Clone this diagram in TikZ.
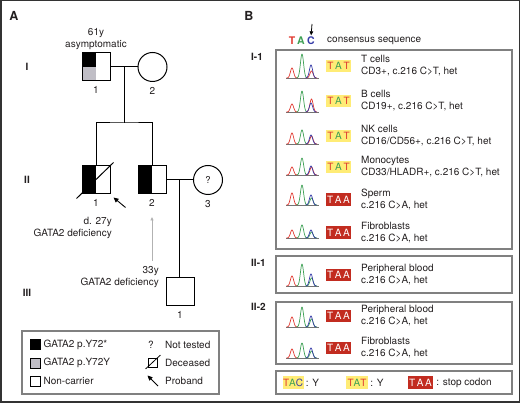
\documentclass[tikz,border=0pt]{standalone}
\usepackage{fontspec}
\setmainfont{TeX Gyre Heros}
\usetikzlibrary{positioning,calc,arrows.meta}

\definecolor{tred}{RGB}{224,56,48}
\definecolor{tgreen}{RGB}{62,160,84}
\definecolor{tblue}{RGB}{54,60,168}
\definecolor{codonyellow}{RGB}{255,236,118}
\definecolor{codonred}{RGB}{194,44,32}
\definecolor{carriergrey}{RGB}{192,190,198}
\definecolor{framegrey}{RGB}{128,128,128}
\definecolor{inkgrey}{RGB}{35,31,32}

\newcommand{\bT}{\textcolor{tred}{T}}
\newcommand{\bA}{\textcolor{tgreen}{A}}
\newcommand{\bC}{\textcolor{tblue}{C}}

% trace: baseline, red, green, blue, third peak height, third peak colour
\newcommand{\peaks}[6]{%
  \draw[black!55, line width=0.6pt] (286,#1) -- (319,#1);
  \draw[tred, line width=0.7pt] plot[domain=286.5:297.5, samples=30, smooth] (\x,{#1-#2*exp(-0.2*(\x-292)*(\x-292))});
  \draw[tgreen, line width=0.7pt] plot[domain=296.5:307.5, samples=30, smooth] (\x,{#1-#3*exp(-0.2*(\x-302)*(\x-302))});
  \draw[#6, line width=0.7pt] plot[domain=306:317, samples=30, smooth] (\x,{#1-#5*exp(-0.2*(\x-311.5)*(\x-311.5))});
  \draw[tblue, line width=0.7pt] plot[domain=305.5:316.5, samples=30, smooth] (\x,{#1-#4*exp(-0.2*(\x-311)*(\x-311))});
}

\begin{document}
\begin{tikzpicture}[x=1pt,y=-1pt,node distance=3pt,color=inkgrey]
	\tikzset{
		male/.style={rectangle, draw=black, line width=1pt, minimum size=28pt, inner sep=0pt, fill=white},
		female/.style={circle, draw=black, line width=1pt, minimum size=29pt, inner sep=0pt, fill=white, font=\fontsize{9.5}{9.5}\selectfont},
		halfblack/.style={path picture={\fill[black] (path picture bounding box.north west) rectangle (path picture bounding box.south);}},
		quarterblack/.style={path picture={\fill[black] (path picture bounding box.north west) rectangle (path picture bounding box.center);
			\fill[carriergrey] (path picture bounding box.west) rectangle (path picture bounding box.south);}},
		pedline/.style={draw=black, line width=1pt},
		proband/.style={draw=black, line width=0.9pt, -{Triangle[length=5pt,width=4.5pt]}},
		greyarrow/.style={draw=black!30, line width=0.8pt, -{Triangle[length=3.5pt,width=3pt]}},
		idlabel/.style={inner sep=0pt, font=\fontsize{10}{11}\selectfont},
		agetext/.style={inner sep=0pt, font=\fontsize{10}{12}\selectfont},
		panel/.style={inner sep=0pt, font=\bfseries\fontsize{12.5}{12.5}\selectfont},
		genlabel/.style={inner sep=0pt, font=\bfseries\fontsize{10}{10}\selectfont},
		legframe/.style={draw=framegrey, line width=1.2pt},
		legsq/.style={rectangle, draw=black, line width=0.8pt, minimum size=10pt, inner sep=0pt},
		legtext/.style={anchor=west, inner sep=0pt, font=\fontsize{10}{11}\selectfont},
		samplebox/.style={draw=framegrey, line width=1.2pt},
		codonY/.style={fill=codonyellow, minimum width=25pt, minimum height=12.5pt, inner sep=0pt, font=\fontsize{10}{10}\selectfont},
		codonR/.style={fill=codonred, text=white, minimum width=25pt, minimum height=12.5pt, inner sep=0pt, font=\fontsize{10}{10}\selectfont},
		rowtext/.style={anchor=west, align=left, inner sep=0pt, font=\fontsize{10}{12}\selectfont}
	}
	\useasboundingbox (0,0) rectangle (520,403);
	\draw[black!80, line width=1.5pt] (0.75,0.75) rectangle (519.25,402.25);

	\node[panel] (panA) at (14,16) {A};
	\node[panel] (panB) at (249,16) {B};

	\node[genlabel] (genI) at (27,67) {I};
	\node[genlabel] (genII) at (27,180) {II};
	\node[genlabel] (genIII) at (27,293) {III};

	\node[male, quarterblack] (I1) at (96,67) {};
	\node[female] (I2) at (152.5,67) {};
	\node[male, halfblack] (II1) at (96,180) {};
	\node[male, halfblack] (II2) at (152,180) {};
	\node[female] (II3) at (208,180) {?};
	\node[male] (III1) at (180,292) {};

	\node[idlabel, below=5pt of I1] (idI1) {1};
	\node[idlabel, below=5pt of I2] (idI2) {2};
	\node[idlabel, below=5pt of II1] (idII1) {1};
	\node[idlabel, below=5pt of II2] (idII2) {2};
	\node[idlabel, below=5pt of II3] (idII3) {3};
	\node[idlabel, below=5pt of III1] (idIII1) {1};

	\node[agetext, align=center, anchor=south] (ageI1) at (96,50) {61y\\asymptomatic};
	\node[agetext, align=right, anchor=north east] (ageII1) at (112,217) {d. 27y\\GATA2 deficiency};
	\node[agetext, align=right, anchor=north east] (ageII2) at (159,266) {33y\\GATA2 deficiency};

	\coordinate (mI) at ($(I1.east)!0.5!(I2.west)$);
	\coordinate (sibII) at ($(mI)+(0,56)$);
	\coordinate (mII) at ($(II2.east)!0.5!(II3.west)$);
	\draw[pedline] (I1.east) -- (I2.west);
	\draw[pedline] (mI) -- (sibII);
	\draw[pedline] (II1.north) |- (sibII) -| (II2.north);
	\draw[pedline] (II2.east) -- (II3.west);
	\draw[pedline] (mII) -- (mII |- III1.north);
	\draw[pedline] ($(II1.south west)+(-5,4)$) -- ($(II1.north east)+(3,-3)$);
	\coordinate (probII1) at ($(II1.south east)+(15,13)$);
	\draw[proband] (probII1) -- ($(II1.south east)+(3,3)$);
	\draw[greyarrow, shorten <=5pt, shorten >=10pt] (ageII2.north -| idII2.south) -- (idII2.south);

	\draw[legframe] (22,331) rectangle (219,394);
	\node[legsq, fill=black] (legMut) at (35,344.5) {};
	\node[legsq, fill=carriergrey] (legSyn) at (35,363) {};
	\node[legsq, fill=white] (legNon) at (35,381) {};
	\node[legtext, right=3pt of legMut] (txtMut) {GATA2 p.Y72*};
	\node[legtext, right=3pt of legSyn] (txtSyn) {GATA2 p.Y72Y};
	\node[legtext, right=3pt of legNon] (txtNon) {Non-carrier};
	\node[inner sep=0pt, font=\fontsize{10}{11}\selectfont] (legNT) at (151,344.5) {?};
	\node[legsq, minimum size=9pt] (legDec) at (152.5,362.5) {};
	\draw[pedline, line width=0.8pt] ($(legDec.south west)+(-2,1.5)$) -- ($(legDec.north east)+(3,-2.5)$);
	\coordinate (legProbTail) at (158,386);
	\coordinate (legProbTip) at (147.5,375.5);
	\draw[proband] (legProbTail) -- (legProbTip);
	\node[legtext] (txtNT) at (165,344.5) {Not tested};
	\node[legtext] (txtDec) at (165,362.5) {Deceased};
	\node[legtext] (txtProb) at (165,380.5) {Proband};

	\node[genlabel, anchor=west] (labI1) at (251,57) {I-1};
	\node[genlabel, anchor=west] (labII1) at (251,263) {II-1};
	\node[genlabel, anchor=west] (labII2) at (251,307) {II-2};

	\node[inner sep=0pt, font=\bfseries\fontsize{10.5}{10}\selectfont] (consT) at (292,41) {\bT};
	\node[inner sep=0pt, font=\bfseries\fontsize{10.5}{10}\selectfont] (consA) at (301,41) {\bA};
	\node[inner sep=0pt, font=\bfseries\fontsize{10.5}{10}\selectfont] (consC) at (311,41) {\bC};
	\node[rowtext] (consTxt) at (327,41) {consensus sequence};
	\coordinate (mutTop) at (312,24);
	\draw[draw=black, line width=0.8pt, -{Triangle[length=4pt,width=3.5pt]}, shorten >=1.5pt] (mutTop) -- (consC.north);

	\draw[samplebox] (276,50) rectangle (512,249);
	\draw[samplebox] (276,256) rectangle (512,293);
	\draw[samplebox] (276,302) rectangle (512,364);
	\draw[samplebox] (276,371) rectangle (512,394);

	\peaks{78}{10}{24}{13}{7}{tred}
	\node[codonY] (codTc) at (338.5,66) {\bT\,\bA\,\bT};
	\node[rowtext] (txtTc) at (361,66) {T cells\\CD3+, c.216 C>T, het};
	\peaks{112}{8}{21}{9}{13}{tred}
	\node[codonY] (codBc) at (338.5,101) {\bT\,\bA\,\bT};
	\node[rowtext] (txtBc) at (361,101) {B cells\\CD19+, c.216 C>T, het};
	\peaks{144}{11}{14}{9}{8}{tred}
	\node[codonY] (codNK) at (338.5,136) {\bT\,\bA\,\bT};
	\node[rowtext] (txtNK) at (361,136) {NK cells\\CD16/CD56+, c.216 C>T, het};
	\peaks{175}{8}{17}{9}{8}{tred}
	\node[codonY] (codMo) at (338.5,167) {\bT\,\bA\,\bT};
	\node[rowtext] (txtMo) at (361,167) {Monocytes\\CD33/HLADR+, c.216 C>T, het};
	\peaks{205}{12}{20}{10}{7}{tgreen}
	\node[codonR] (codSp) at (338.5,199.5) {T\,A\,A};
	\node[rowtext] (txtSp) at (361,199.5) {Sperm\\c.216 C>A, het};
	\peaks{238}{8}{13}{8}{6}{tgreen}
	\node[codonR] (codFb) at (338.5,232.5) {T\,A\,A};
	\node[rowtext] (txtFb) at (361,232.5) {Fibroblasts\\c.216 C>A, het};

	\peaks{286}{10}{22}{12}{8}{tgreen}
	\node[codonR] (codPB1) at (338.5,275) {T\,A\,A};
	\node[rowtext] (txtPB1) at (361,275) {Peripheral blood\\c.216 C>A, het};

	\peaks{327}{10}{20}{11}{8}{tgreen}
	\node[codonR] (codPB2) at (338.5,316) {T\,A\,A};
	\node[rowtext] (txtPB2) at (361,316) {Peripheral blood\\c.216 C>A, het};
	\peaks{358}{9}{15}{10}{7}{tgreen}
	\node[codonR] (codFb2) at (338.5,348) {T\,A\,A};
	\node[rowtext] (txtFb2) at (361,348) {Fibroblasts\\c.216 C>A, het};

	\node[codonY, minimum width=21pt] (legTAC) at (293,382.5) {\bT\bA\bC};
	\node[rowtext, right=2pt of legTAC] (txtTAC) {: Y};
	\node[codonY, minimum width=22pt] (legTAT) at (357,382.5) {\bT\bA\bT};
	\node[rowtext, right=2pt of legTAT] (txtTAT) {: Y};
	\node[codonR] (legTAA) at (420.5,382.5) {T\,A\,A};
	\node[rowtext, right=3pt of legTAA] (txtTAA) {: stop codon};
\end{tikzpicture}
\end{document}
